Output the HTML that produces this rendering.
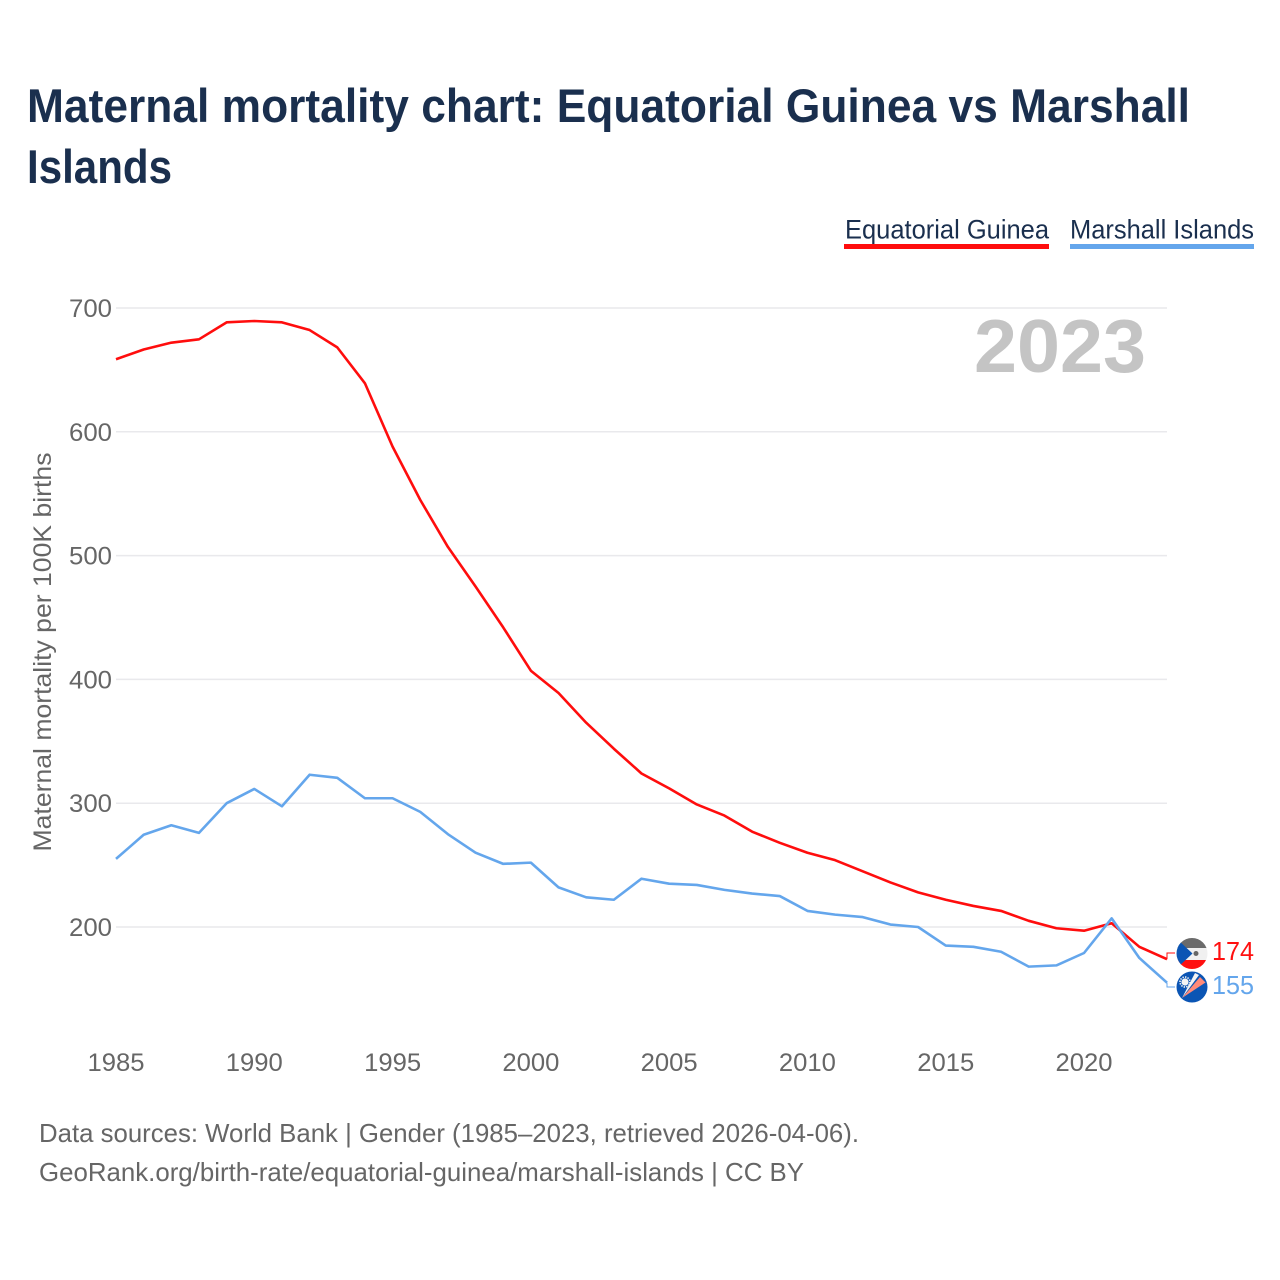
<!DOCTYPE html>
<html lang="en">
<head>
<meta charset="utf-8">
<title>Maternal mortality chart: Equatorial Guinea vs Marshall Islands</title>
<style>
html,body{margin:0;padding:0;background:#fff;width:1280px;height:1280px;overflow:hidden}
svg{display:block}
text{font-family:"Liberation Sans",sans-serif}
</style>
</head>
<body>
<svg id="chart" width="1280" height="1280" viewBox="0 0 1280 1280" xmlns="http://www.w3.org/2000/svg">
  <defs>
    <clipPath id="clip-eg"><circle cx="1192" cy="953.5" r="15.5"/></clipPath>
    <clipPath id="clip-mh"><circle cx="1192" cy="987" r="15.5"/></clipPath>
  </defs>
  <text x="27" y="122" font-size="47" font-weight="700" fill="#1a2f4e" textLength="1163" lengthAdjust="spacingAndGlyphs">Maternal mortality chart: Equatorial Guinea vs Marshall</text>
  <text x="27" y="183" font-size="47" font-weight="700" fill="#1a2f4e" textLength="145" lengthAdjust="spacingAndGlyphs">Islands</text>

  <g>
    <text x="845" y="238.5" font-size="27" fill="#1a2f4e" textLength="204" lengthAdjust="spacingAndGlyphs">Equatorial Guinea</text>
    <rect x="844" y="244" width="205" height="5" fill="#ff0d0d"/>
  </g>
  <g>
    <text x="1070" y="238.5" font-size="27" fill="#1a2f4e" textLength="184" lengthAdjust="spacingAndGlyphs">Marshall Islands</text>
    <rect x="1070" y="244" width="184" height="5" fill="#64a6ec"/>
  </g>

  <text x="1146" y="372" font-size="75" font-weight="700" fill="#c4c4c4" text-anchor="end" textLength="172" lengthAdjust="spacingAndGlyphs">2023</text>

  <text transform="translate(51,652) rotate(-90)" font-size="25" fill="#666" text-anchor="middle" textLength="399" lengthAdjust="spacingAndGlyphs">Maternal mortality per 100K births</text>

  <g id="grid"></g>
  <g id="y-ticks"></g>
  <g id="x-ticks"></g>
  <g id="series"></g>

  <g clip-path="url(#clip-eg)">
    <rect x="1176" y="937" width="32" height="11.5" fill="#6b6b6b"/>
    <rect x="1176" y="948" width="32" height="12" fill="#f0f0f0"/>
    <rect x="1176" y="960" width="32" height="10" fill="#ff1010"/>
    <polygon points="1176,938 1176,969 1192.5,953.5" fill="#0b55b4"/>
    <circle cx="1196" cy="953.5" r="2.5" fill="#666"/>
  </g>
  <g clip-path="url(#clip-mh)">
    <rect x="1176" y="971" width="32" height="32" fill="#0b55b4"/>
    <polygon points="1182,998 1195,973 1199,975" fill="#f4f4f4"/>
    <polygon points="1182,998 1200,977 1205.5,982.5" fill="#ff8a78"/>
    <circle cx="1185" cy="982" r="3.6" fill="#f4f4f4"/>
    <circle cx="1185" cy="982" r="5" fill="none" stroke="#f4f4f4" stroke-width="1.6" stroke-dasharray="1.4 1.2"/>
  </g>

  <text id="end-label-eg" x="1212" y="960" font-size="25.5" fill="#ff1010" textLength="42" lengthAdjust="spacingAndGlyphs"></text>
  <text id="end-label-mh" x="1212" y="994" font-size="25.5" fill="#64a6ec" textLength="42" lengthAdjust="spacingAndGlyphs"></text>

  <text x="39" y="1142" font-size="26" fill="#666" textLength="820" lengthAdjust="spacingAndGlyphs">Data sources: World Bank | Gender (1985–2023, retrieved 2026-04-06).</text>
  <text x="39" y="1181" font-size="26" fill="#666" textLength="765" lengthAdjust="spacingAndGlyphs">GeoRank.org/birth-rate/equatorial-guinea/marshall-islands | CC BY</text>
</svg>
<script>
const years = [1985,1986,1987,1988,1989,1990,1991,1992,1993,1994,1995,1996,1997,1998,1999,2000,2001,2002,2003,2004,2005,2006,2007,2008,2009,2010,2011,2012,2013,2014,2015,2016,2017,2018,2019,2020,2021,2022,2023];
const equatorialGuinea = [658.6,666.5,672,674.7,688.4,689.5,688.4,682.2,668.2,639.2,588,545,507,475,442,407,389,365,344,324,312,299,290,277,268,260,254,245,236,228,222,217,213,205,199,197,203,184,174];
const marshallIslands = [255,274.5,282.2,276,300,311.5,297.5,323,320.5,304,304,293,275,260,251,252,232,224,222,239,235,234,230,227,225,213,210,208,202,200,185,184,180,168,169,179,207,175,155];
const yTickValues = [200,300,400,500,600,700];
const xTickValues = [1985,1990,1995,2000,2005,2010,2015,2020];

const NS = 'http://www.w3.org/2000/svg';
function xScale(year) { return 116 + (year - 1985) * (1167 - 116) / 38; }
function yScale(value) { return 927 - (value - 200) * (927 - 308) / 500; }

const grid = document.getElementById('grid');
const yTicks = document.getElementById('y-ticks');
const xTicks = document.getElementById('x-ticks');
const seriesGroup = document.getElementById('series');

yTickValues.forEach(function (v) {
  const line = document.createElementNS(NS, 'line');
  
  
  line.setAttribute('x1', xScale(1985));
  line.setAttribute('x2', xScale(2023));
  line.setAttribute('y1', yScale(v));
  line.setAttribute('y2', yScale(v));
  line.setAttribute('stroke', '#e9e9ec');
  line.setAttribute('stroke-width', '1.5');
  grid.appendChild(line);

  const label = document.createElementNS(NS, 'text');
  
  
  label.setAttribute('x', 112);
  label.setAttribute('y', yScale(v) + 9);
  label.setAttribute('text-anchor', 'end');
  label.setAttribute('font-size', '25');
  label.setAttribute('fill', '#666');
  label.setAttribute('textLength', '43');
  label.setAttribute('lengthAdjust', 'spacingAndGlyphs');
  label.textContent = v;
  yTicks.appendChild(label);
});

xTickValues.forEach(function (y) {
  const label = document.createElementNS(NS, 'text');
  
  
  label.setAttribute('x', xScale(y));
  label.setAttribute('y', 1071);
  label.setAttribute('text-anchor', 'middle');
  label.setAttribute('font-size', '25');
  label.setAttribute('fill', '#666');
  label.setAttribute('textLength', '57');
  label.setAttribute('lengthAdjust', 'spacingAndGlyphs');
  label.textContent = y;
  xTicks.appendChild(label);
});

function linePath(values) {
  return values.map(function (v, i) {
    return (i ? 'L' : 'M') + xScale(years[i]).toFixed(2) + ' ' + yScale(v).toFixed(2);
  }).join(' ');
}

const redLine = document.createElementNS(NS, 'path');


redLine.setAttribute('d', linePath(equatorialGuinea));
redLine.setAttribute('fill', 'none');
redLine.setAttribute('stroke', '#ff0d0d');
redLine.setAttribute('stroke-width', '2.6');
redLine.setAttribute('stroke-linejoin', 'round');
seriesGroup.appendChild(redLine);

const blueLine = document.createElementNS(NS, 'path');


blueLine.setAttribute('d', linePath(marshallIslands));
blueLine.setAttribute('fill', 'none');
blueLine.setAttribute('stroke', '#64a6ec');
blueLine.setAttribute('stroke-width', '2.6');
blueLine.setAttribute('stroke-linejoin', 'round');
seriesGroup.appendChild(blueLine);

function leader(value, targetY, color) {
  const x = xScale(2023);
  const path = document.createElementNS(NS, 'path');
  
  
  path.setAttribute('d', 'M' + x + ' ' + yScale(value) + ' V' + targetY + ' H' + (x + 8));
  path.setAttribute('fill', 'none');
  path.setAttribute('stroke', color);
  path.setAttribute('stroke-width', '1');
  seriesGroup.appendChild(path);
}
leader(equatorialGuinea[equatorialGuinea.length - 1], 953, '#ff0d0d');
leader(marshallIslands[marshallIslands.length - 1], 987, '#64a6ec');

document.getElementById('end-label-eg').textContent = equatorialGuinea[equatorialGuinea.length - 1];
document.getElementById('end-label-mh').textContent = marshallIslands[marshallIslands.length - 1];
</script>
</body>
</html>
